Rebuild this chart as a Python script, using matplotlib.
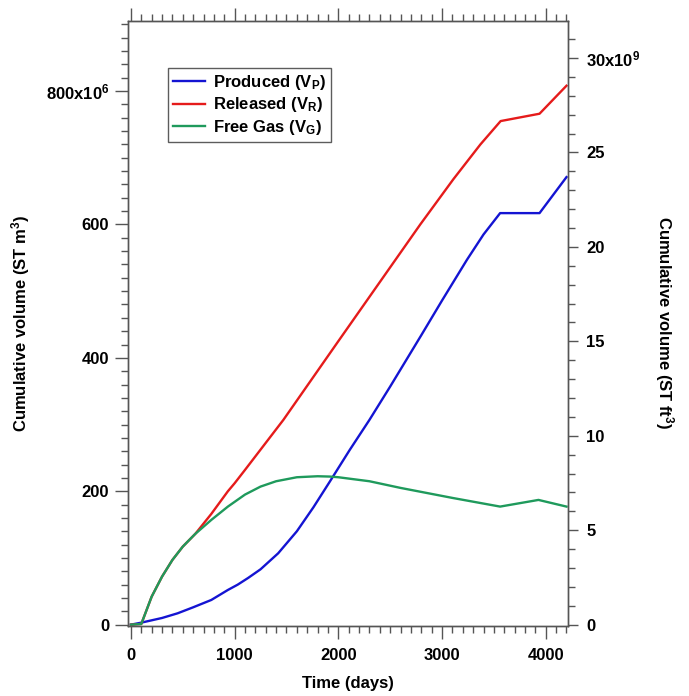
import matplotlib
matplotlib.use('Agg')
import matplotlib.pyplot as plt
from matplotlib.ticker import MultipleLocator, FixedLocator, FixedFormatter
import numpy as np

plt.rcParams['font.family'] = 'Liberation Sans'
plt.rcParams['font.weight'] = 'bold'
plt.rcParams['mathtext.fontset'] = 'custom'
plt.rcParams['mathtext.rm'] = 'Liberation Sans:bold'
plt.rcParams['mathtext.bf'] = 'Liberation Sans:bold'
plt.rcParams['mathtext.it'] = 'Liberation Sans:bold'

# cumulative volumes, 10^6 ST m3
days_p = [0, 100, 300, 450, 600, 775, 935, 1030, 1130, 1250, 1420, 1600, 1760, 1920, 2110,
          2300, 2500, 2800, 3000, 3240, 3400, 3560, 3940, 4200]
produced = [0, 3, 10, 17, 26, 37, 52, 60, 70, 83, 107, 140, 176, 215, 262,
            307, 357, 434, 486, 547, 585, 617, 617, 671]

days_r = [0, 100, 200, 300, 400, 500, 620, 775, 935, 1000, 1100, 1470, 2000, 2790, 3110,
          3370, 3565, 3940, 4200]
released = [0, 1, 42, 72, 97, 117, 136, 166, 200, 212, 232, 307, 425, 600, 668,
            720, 755, 766, 808]

days_g = [0, 100, 200, 300, 400, 500, 620, 775, 935, 1100, 1250, 1400, 1600, 1800, 1920,
          2000, 2300, 2600, 3100, 3560, 3930, 4200]
free_gas = [0, 1, 42, 72, 97, 117, 136, 157, 177, 195, 207, 215, 221, 222.5, 222,
            221, 215, 205, 190, 177, 187, 177]

M3_TO_FT3 = 35.3147
FS = 12

fig = plt.figure(figsize=(6.89, 6.96), dpi=100)
ax = fig.add_axes([0.1858, 0.1006, 0.8240 - 0.1858, 0.9698 - 0.1006])

ax.plot(days_p, produced, color='#1414d2', lw=1.7, label='Produced (V$_\\mathrm{P}$)')
ax.plot(days_r, released, color='#e51b1b', lw=1.7, label='Released (V$_\\mathrm{R}$)')
ax.plot(days_g, free_gas, color='#1f9a5c', lw=1.7, label='Free Gas (V$_\\mathrm{G}$)')

ax.set_xlim(-28, 4212)
ax.set_ylim(-2, 905)

grey = '#555555'
for s in ax.spines.values():
    s.set_color(grey)
    s.set_linewidth(1.0)

ax.xaxis.set_major_locator(MultipleLocator(1000))
ax.xaxis.set_minor_locator(MultipleLocator(100))
ax.yaxis.set_major_locator(FixedLocator([0, 200, 400, 600, 800]))
ax.yaxis.set_major_formatter(FixedFormatter(['0', '200', '400', '600', '800x10$^{6}$']))
ax.yaxis.set_minor_locator(MultipleLocator(20))

ax.tick_params(axis='both', which='major', direction='out', length=9.5, width=1.0,
               color=grey, labelsize=FS, pad=4)
ax.tick_params(axis='both', which='minor', direction='out', length=5, width=1.0, color=grey)
ax.tick_params(axis='x', which='both', top=True, labeltop=False)
ax.tick_params(axis='x', which='major', pad=6)

ax.set_xlabel('Time (days)', fontsize=FS, fontweight='bold', labelpad=10)
fig.text(21 / 689, 1 - 323 / 696, 'Cumulative volume (ST m$^{3}$)', fontsize=FS,
         fontweight='bold', rotation=90, ha='center', va='center')

ax2 = ax.twinx()
lo, hi = ax.get_ylim()
ax2.set_ylim(lo * M3_TO_FT3 / 1000, hi * M3_TO_FT3 / 1000)
ax2.yaxis.set_major_locator(FixedLocator([0, 5, 10, 15, 20, 25, 30]))
ax2.yaxis.set_major_formatter(FixedFormatter(['0', '5', '10', '15', '20', '25', '30x10$^{9}$']))
ax2.yaxis.set_minor_locator(MultipleLocator(1))
ax2.tick_params(axis='y', which='major', direction='out', length=7.5, width=1.0,
                color=grey, labelsize=FS, pad=6)
ax2.tick_params(axis='y', which='minor', direction='out', length=5, width=1.0, color=grey)
for s in ax2.spines.values():
    s.set_color(grey)
    s.set_linewidth(1.0)
fig.text(664 / 689, 1 - 323 / 696, 'Cumulative volume (ST ft$^{3}$)', fontsize=FS,
         fontweight='bold', rotation=-90, ha='center', va='center')

leg = ax.legend(loc='upper left', bbox_to_anchor=(168 / 689, 1 - 68 / 696),
                bbox_transform=fig.transFigure, fontsize=FS, frameon=True, fancybox=False,
                handlelength=1.9, handletextpad=0.5, borderpad=0.3, labelspacing=0.2,
                borderaxespad=0)
leg.get_frame().set_edgecolor('#333333')
leg.get_frame().set_linewidth(1.0)

fig.savefig('out.png', dpi=100)
